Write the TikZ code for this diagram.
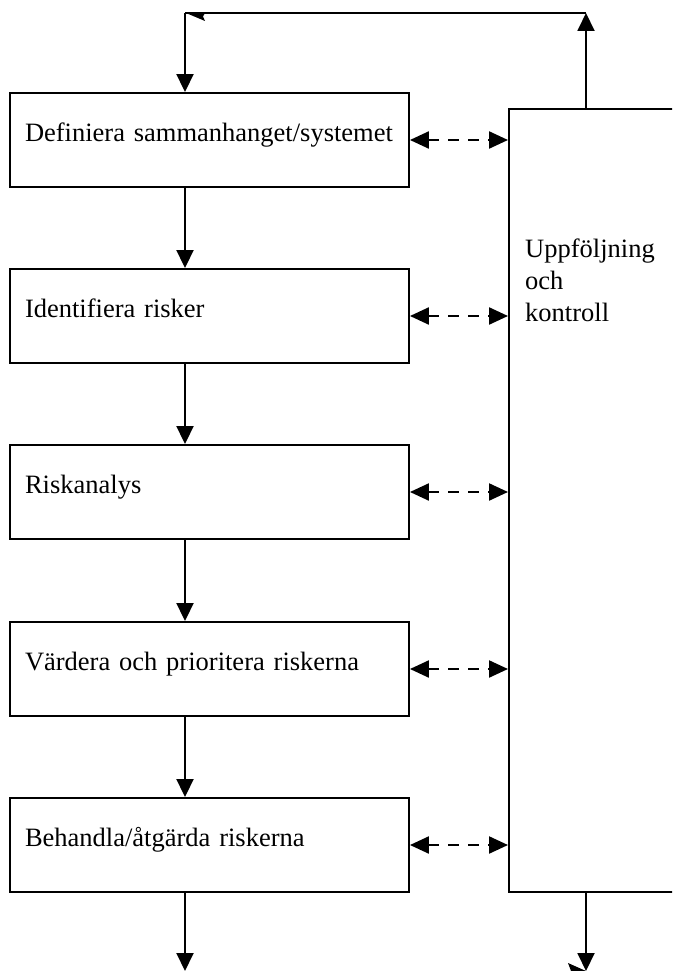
\documentclass[tikz,border=0pt]{standalone}
\usepackage{fontspec}
\setmainfont{Liberation Serif}
\usetikzlibrary{arrows.meta}
\begin{document}
\begin{tikzpicture}[x=1pt,y=-1pt,
  lw/.style={line width=1.9pt},
  stepbox/.style={draw, lw, minimum width=399pt, minimum height=94pt,
    inner xsep=15pt, inner ysep=0pt, text width=369pt, align=left,
    text height=10pt, text depth=8pt, font=\fontsize{26.5}{30}\selectfont},
  sidebox/.style={draw, lw, minimum width=300pt, minimum height=783pt, inner sep=0pt},
  arr/.style={lw, -{Triangle[length=18pt,width=17pt]}},
  darr/.style={line width=2.3pt, dash pattern=on 11pt off 9pt,
    {Triangle[length=19pt,width=17pt]}-{Triangle[length=19pt,width=17pt]}}]
\clip (0,0) rectangle (672,971);
\fill[white] (0,0) rectangle (672,971);

\node[stepbox] (b1) at (209.5,140) {Definiera sammanhanget/systemet};
\node[stepbox] (b2) at (209.5,316) {Identifiera risker};
\node[stepbox] (b3) at (209.5,492) {Riskanalys};
\node[stepbox] (b4) at (209.5,669) {Värdera och prioritera riskerna};
\node[stepbox] (b5) at (209.5,845) {Behandla/åtgärda riskerna};

\node[sidebox, anchor=north west] (uk) at (508,108) {};
\node[anchor=base west, inner sep=0pt, font=\fontsize{26.5}{32}\selectfont] (ukt) at (525,257)
  {\begin{tabular}[t]{@{}l@{}}Uppföljning\\och\\kontroll\end{tabular}};

\coordinate (tl) at (185,13);
\coordinate (tr) at (586,13);
\coordinate (bl) at (185,971);
\coordinate (br) at (586,971);

\draw[arr] (tl) -- (tl |- b1.north);
\draw[lw] (tr) -- (tl);
\draw[arr] (tr |- uk.north) -- (tr);
\draw[arr] (tl |- b1.south) -- (tl |- b2.north);
\draw[arr] (tl |- b2.south) -- (tl |- b3.north);
\draw[arr] (tl |- b3.south) -- (tl |- b4.north);
\draw[arr] (tl |- b4.south) -- (tl |- b5.north);
\draw[arr] (bl |- b5.south) -- (bl);
\draw[arr] (br |- uk.south) -- (br);

\foreach \b in {b1,b2,b3,b4,b5}
  \draw[darr] (\b.east) -- (\b.east -| uk.west);

\fill (186,13) -- (205,13) -- (203,16.5) -- (205,21) -- cycle;
\fill (568,963) -- (586,971) -- (571,971) -- cycle;
\end{tikzpicture}
\end{document}
